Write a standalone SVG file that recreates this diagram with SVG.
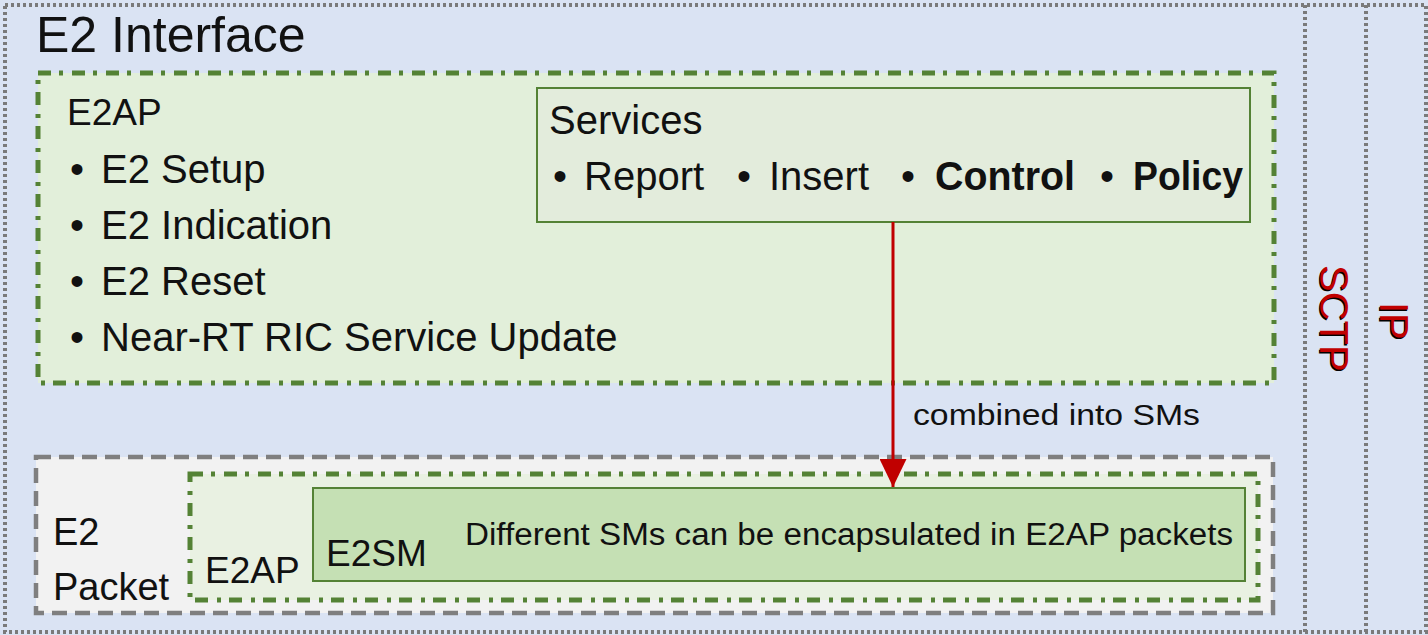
<svg xmlns="http://www.w3.org/2000/svg" width="1428" height="635" viewBox="0 0 1428 635">
  <defs>
    <style>
      .t { font-family: "Liberation Sans", Arial, sans-serif; fill: #111; }
      .dotted { fill: none; stroke: #7a7a7a; stroke-width: 4; stroke-dasharray: 3 3; }
      .dashdot { stroke: #548235; stroke-width: 5; stroke-dasharray: 13 8 4 9; }
      .dashed { stroke: #7f7f7f; stroke-width: 4.5; stroke-dasharray: 15 8; }
      .solid { stroke: #548235; stroke-width: 2; }
      .red { font-family: "Liberation Sans", Arial, sans-serif; fill: #c00000; }
      .shadow { font-family: "Liberation Sans", Arial, sans-serif; fill: #000; }
    </style>
    <marker id="arrow" markerWidth="28" markerHeight="27" refX="28" refY="13.5" orient="auto" markerUnits="userSpaceOnUse" viewBox="0 0 28 27">
      <path d="M0,0 L28,13.5 L0,27 Z" fill="#c00000"/>
    </marker>
  </defs>

  <!-- background -->
  <rect x="0" y="0" width="1428" height="635" fill="#dae3f3"/>

  <!-- protocol stack frames -->
  <g id="stack">
    <rect class="dotted" x="5" y="5" width="1421" height="627"/>
    <line class="dotted" x1="1305" y1="5" x2="1305" y2="632"/>
    <line class="dotted" x1="1366" y1="5" x2="1366" y2="632"/>
  </g>

  <g id="e2-interface">
    <text class="t" x="36" y="52" font-size="50">E2 Interface</text>
  </g>

  <!-- E2AP procedures -->
  <g id="e2ap">
    <rect class="dashdot" x="38" y="73" width="1236" height="310" fill="#e2efda"/>
    <text class="t" x="67" y="125" font-size="37">E2AP</text>
    <g font-size="40">
      <text class="t" x="70" y="183">•</text>
      <text class="t" x="101" y="183">E2 Setup</text>
      <text class="t" x="70" y="239">•</text>
      <text class="t" x="101" y="239">E2 Indication</text>
      <text class="t" x="70" y="295">•</text>
      <text class="t" x="101" y="295">E2 Reset</text>
      <text class="t" x="70" y="351">•</text>
      <text class="t" x="101" y="351">Near-RT RIC Service Update</text>
    </g>
  </g>

  <!-- RIC services -->
  <g id="services">
    <rect class="solid" x="537" y="88" width="713" height="134" fill="#e3ecdc"/>
    <text class="t" x="549" y="134" font-size="40">Services</text>
    <g font-size="40">
      <text class="t" x="553" y="190">•</text>
      <text class="t" x="584" y="190">Report</text>
      <text class="t" x="737" y="190">•</text>
      <text class="t" x="769" y="190">Insert</text>
      <text class="t" x="901" y="190">•</text>
      <text class="t" x="935" y="190" font-weight="bold" textLength="140" lengthAdjust="spacingAndGlyphs">Control</text>
      <text class="t" x="1100" y="190">•</text>
      <text class="t" x="1133" y="190" font-weight="bold" textLength="110" lengthAdjust="spacingAndGlyphs">Policy</text>
    </g>
  </g>

  <!-- E2 packet layout -->
  <g id="e2-packet">
    <rect class="dashed" x="36" y="457" width="1237" height="156" fill="#f2f2f2"/>
    <text class="t" x="53" y="545" font-size="38">E2</text>
    <text class="t" x="53" y="600" font-size="38">Packet</text>
  </g>

  <g id="e2ap-packet">
    <rect class="dashdot" x="190" y="474" width="1068" height="126" fill="#e9f1e2"/>
    <text class="t" x="205" y="583" font-size="37">E2AP</text>
  </g>

  <g id="e2sm">
    <rect class="solid" x="313" y="488" width="932" height="93" fill="#c5e0b4"/>
    <text class="t" x="326" y="566" font-size="37">E2SM</text>
    <text class="t" x="465" y="545" font-size="31" textLength="768" lengthAdjust="spacingAndGlyphs">Different SMs can be encapsulated in E2AP packets</text>
  </g>

  <!-- transport layers -->
  <g id="sctp">
    <g transform="rotate(90 1320 265)">
      <text class="shadow" x="1321.5" y="266.5" font-size="40">SCTP</text>
      <text class="red" x="1320" y="265" font-size="40">SCTP</text>
    </g>
  </g>
  <g id="ip">
    <g transform="rotate(90 1380 302)">
      <text class="shadow" x="1381.5" y="303.5" font-size="40">IP</text>
      <text class="red" x="1380" y="302" font-size="40">IP</text>
    </g>
  </g>

  <!-- connectors -->
  <g id="connectors">
    <line x1="893" y1="222" x2="893" y2="487" stroke="#c00000" stroke-width="3" marker-end="url(#arrow)"/>
    <text class="t" x="913" y="425" font-size="30" textLength="287" lengthAdjust="spacingAndGlyphs">combined into SMs</text>
  </g>
</svg>
